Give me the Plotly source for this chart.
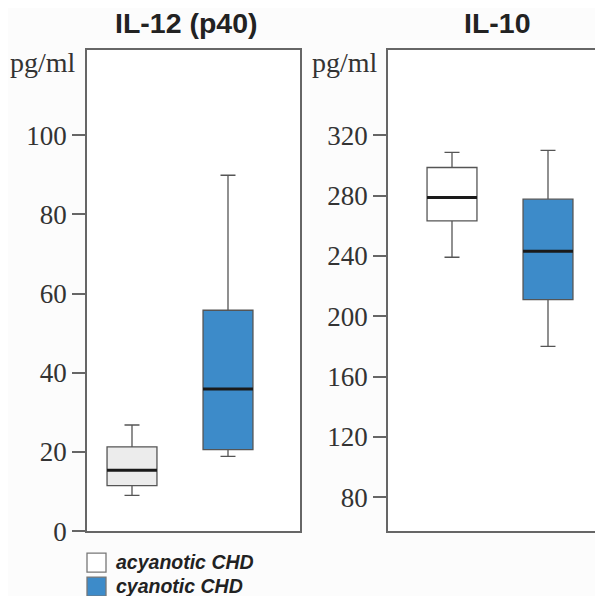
import plotly.graph_objects as go

groups = ["acyanotic CHD", "cyanotic CHD"]

# IL-12 (p40) box statistics (pg/ml)
il12_low = [9.0, 18.9]
il12_q1 = [11.5, 20.6]
il12_med = [15.4, 35.9]
il12_q3 = [21.3, 55.8]
il12_high = [26.8, 89.9]

# IL-10 box statistics (pg/ml)
il10_low = [239.1, 180.0]
il10_q1 = [263.2, 211.0]
il10_med = [278.7, 243.1]
il10_q3 = [298.6, 277.6]
il10_high = [308.7, 310.0]

il12_ticks = [0, 20, 40, 60, 80, 100]
il10_ticks = [80, 120, 160, 200, 240, 280, 320]

OFF = 8          # page body margin
S = 0.975        # vertical squeeze of the photographed page
W = 603 - 2 * OFF
H = round(596 / S) - 2 * OFF


def px(x):
    return (x - OFF) / W


def py(y):
    return 1 - (y / S - OFF) / H


fill_il12 = ["#ececec", "#3d8bc9"]
fill_il10 = ["#ffffff", "#3d8bc9"]
legend_fills = ["#ffffff", "#3d8bc9"]
BOXW = 0.52

fig = go.Figure()


def add_panel(xa, ya, low, q1, med, q3, high, fills):
    for i in range(2):
        fig.add_trace(go.Box(
            x=[i], q1=[q1[i]], median=[med[i]], q3=[q3[i]],
            lowerfence=[low[i]], upperfence=[high[i]],
            width=BOXW, whiskerwidth=0.3, name=groups[i],
            fillcolor=fills[i], line=dict(color="#555555", width=1.3),
            boxpoints=False, showlegend=False, hoverinfo="skip",
            xaxis=xa, yaxis=ya,
        ))
        fig.add_trace(go.Scatter(
            x=[i - BOXW / 2, i + BOXW / 2], y=[med[i], med[i]],
            mode="lines", line=dict(color="#1a1a1a", width=3),
            showlegend=False, hoverinfo="skip", xaxis=xa, yaxis=ya,
        ))


add_panel("x", "y", il12_low, il12_q1, il12_med, il12_q3, il12_high, fill_il12)
add_panel("x2", "y2", il10_low, il10_q1, il10_med, il10_q3, il10_high, fill_il10)

ydom = [py(531), py(50)]
tickfont = dict(family="Liberation Serif", size=27, color="#333333")
axline = dict(showline=True, linecolor="#666666", linewidth=1.5, showgrid=False, zeroline=False)

annotations = [
    dict(text="<b>IL-12 (p40)</b>", x=px(186), y=py(23), xref="paper", yref="paper",
         xanchor="center", yanchor="middle", showarrow=False,
         font=dict(family="Liberation Sans", size=28.5, color="#222222")),
    dict(text="<b>IL-10</b>", x=px(497), y=py(23), xref="paper", yref="paper",
         xanchor="center", yanchor="middle", showarrow=False,
         font=dict(family="Liberation Sans", size=28.5, color="#222222")),
    dict(text="pg/ml", x=px(8), y=py(62), xref="paper", yref="paper", xanchor="left",
         yanchor="middle", showarrow=False,
         font=dict(family="Liberation Serif", size=28, color="#333333")),
    dict(text="pg/ml", x=px(310), y=py(62), xref="paper", yref="paper", xanchor="left",
         yanchor="middle", showarrow=False,
         font=dict(family="Liberation Serif", size=28, color="#333333")),
]
shapes = []

# legend (squares + labels)
leg_tops = [553, 577]
for name, col, top in zip(groups, legend_fills, leg_tops):
    shapes.append(dict(type="rect", xref="paper", yref="paper",
                       x0=px(87), x1=px(106), y0=py(top + 19), y1=py(top),
                       fillcolor=col, line=dict(color="#777777", width=1.3)))
    annotations.append(dict(text="<b><i>" + name + "</i></b>", x=px(114), y=py(top + 9),
                            xref="paper", yref="paper", xanchor="left", yanchor="middle",
                            showarrow=False,
                            font=dict(family="Liberation Sans", size=19.5, color="#222222")))

# x-axis ranges so that box centres fall where the reference puts them
x1_range = [-(132 - 87) / 96, 1 + (300 - 228) / 96]
x2_range = [-(452 - 388) / 96, 1 + (595 - 548) / 96]

fig.update_layout(
    width=W, height=H,
    margin=dict(l=0, r=0, t=0, b=0),
    showlegend=False,
    paper_bgcolor="#fcfcfc", plot_bgcolor="#ffffff",
    xaxis=dict(domain=[px(87), px(300)], range=x1_range, showticklabels=False,
               ticks="", mirror=True, **axline),
    yaxis=dict(domain=ydom, range=[0, 121.5], tickvals=il12_ticks, ticks="outside",
               ticklen=13, tickcolor="#666666", tickwidth=1.5, tickfont=tickfont,
               mirror=True, anchor="x", **axline),
    xaxis2=dict(domain=[px(388), 1.0], range=x2_range, showticklabels=False,
                ticks="", mirror=True, anchor="y2", **axline),
    yaxis2=dict(domain=ydom, range=[57.5, 376.4], tickvals=il10_ticks, ticks="outside",
                ticklen=13, tickcolor="#666666", tickwidth=1.5, tickfont=tickfont,
                mirror=False, anchor="x2", **axline),
    annotations=annotations,
    shapes=shapes,
)

fig.write_html("out.html")
